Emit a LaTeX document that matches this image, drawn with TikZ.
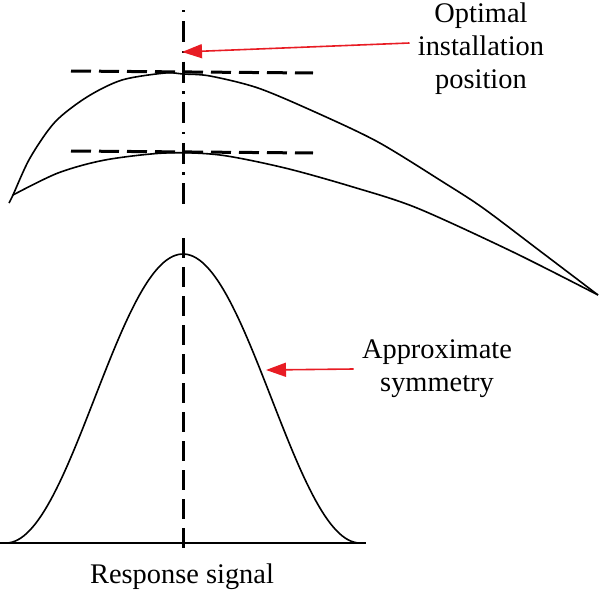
\documentclass[tikz,border=0pt]{standalone}
\usepackage{fontspec}
\setmainfont{Liberation Serif}
\usetikzlibrary{arrows.meta}
\definecolor{arrowred}{RGB}{232,28,36}

\begin{document}
\begin{tikzpicture}[x=0.5pt,y=-0.5pt,
		curve/.style={line width=0.8pt, black},
		hdash/.style={line width=1.5pt, dash pattern=on 10pt off 4pt},
		vdashdot/.style={line width=1.5pt, dash pattern=on 1.2pt off 4.3pt on 10.5pt off 4.3pt},
		vdash/.style={line width=1.5pt, dash pattern=on 10pt off 4.5pt},
		redarrow/.style={draw=arrowred, line width=0.8pt, -{Triangle[length=10pt,width=7pt]}},
		lbl/.style={font=\fontsize{14.2}{16.5}\selectfont, align=center, inner sep=4pt}]
			\useasboundingbox (0,0) rectangle (600,594);
			% the two response curves
			\draw[curve] plot[smooth, tension=0.5] coordinates {(9,203) (13,195) (30,158) (55,122) (87,97) (122,80) (165,73) (183,74) (210,76) (258,88) (315,112) (378,142) (443,182) (483,208) (540,251) (598,295)};
			\draw[curve] plot[smooth, tension=0.5] coordinates {(13,195) (58,173) (105,160) (165,153) (220,155) (285,168) (353,187) (417,208) (513,252) (598,295)};
			\draw[hdash] (71,71)--(313,73);
			\draw[hdash] (71,151)--(313,153);
			% centre line
			\draw[vdashdot] (183,10)--(183,212);
			\draw[vdash] (183,238)--(183,557);
			% bell shaped signal
			\draw[curve] (0,543)--(366,543);
			\draw[curve] plot[domain=-177:177, samples=120] ({183+\x},{543-144.5*(1+cos(\x/177*180))});
			\node[lbl] (opt) at (481,49) {Optimal\\installation\\position};
			\node[lbl] (appr) at (437,369) {Approximate\\symmetry};
			\node[lbl, anchor=base] (resp) at (182,583) {Response signal};
			\coordinate (optTip) at (182,52);
			\coordinate (symTip) at (266,370);
			\draw[redarrow] ([yshift=3pt]opt.west)--(optTip);
			\draw[redarrow] (appr.west)--(symTip);
		\end{tikzpicture}
\end{document}
